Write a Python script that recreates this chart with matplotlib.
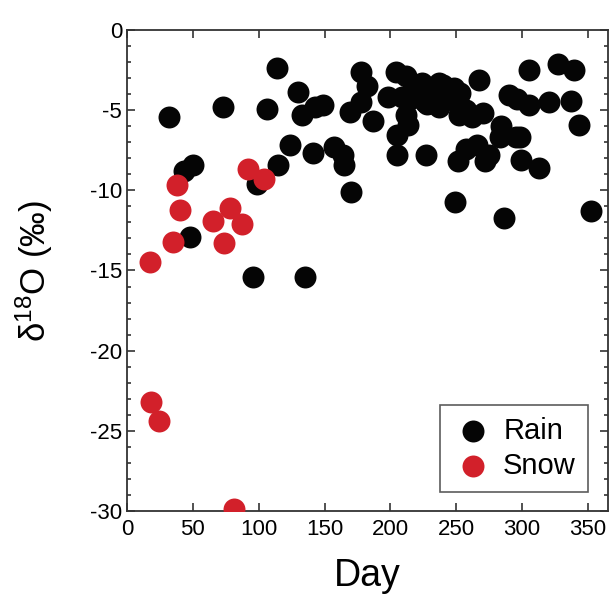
import matplotlib.pyplot as plt
from matplotlib.ticker import MultipleLocator

plt.rcParams['font.family'] = ['Liberation Sans', 'DejaVu Sans']
plt.rcParams['axes.unicode_minus'] = False
plt.rcParams['mathtext.default'] = 'regular'

RAIN_DAY = [32, 43, 50, 48, 73, 96, 99, 106, 114, 115, 124, 130, 133, 135, 141,
            143, 149, 157, 164, 165, 169, 170, 178, 182, 178, 187, 198, 204, 212,
            209, 212, 213, 205, 205, 224, 227, 232, 237, 240, 245, 220, 226, 248,
            253, 257, 252, 262, 267, 270, 249, 251, 257, 266, 272, 275, 283, 284,
            290, 296, 295, 298, 299, 286, 305, 305, 313, 320, 327, 337, 339, 343,
            352, 218, 228, 215, 237, 252]
RAIN_D18O = [-5.4, -8.8, -8.4, -12.9, -4.8, -15.4, -9.6, -4.9, -2.35, -8.4, -7.2,
             -3.85, -5.3, -15.4, -7.7, -4.8, -4.7, -7.3, -7.8, -8.4, -5.1, -10.1,
             -2.6, -3.5, -4.5, -5.7, -4.2, -2.6, -2.9, -4.2, -5.3, -5.9, -6.55,
             -7.8, -3.3, -7.8, -4.3, -3.3, -3.4, -3.95, -4.0, -4.5, -3.6, -3.9,
             -5.0, -4.6, -5.4, -3.1, -5.2, -10.7, -8.2, -7.4, -7.2, -8.2, -7.8,
             -6.7, -6.0, -4.05, -4.3, -6.65, -6.7, -8.1, -11.75, -4.7, -2.5, -8.6,
             -4.5, -2.1, -4.45, -2.5, -5.9, -11.3, -3.6, -4.6, -4.3, -4.8, -5.3]

SNOW_DAY = [17.5, 35, 40, 38, 65, 78.5, 87, 74, 92, 104, 18, 24, 81]
SNOW_D18O = [-14.5, -13.2, -11.2, -9.65, -11.9, -11.1, -12.1, -13.3, -8.7, -9.3,
             -23.2, -24.4, -29.9]

fig = plt.figure(figsize=(6.09, 5.95), dpi=100)
ax = fig.add_axes([0.2085, 0.1412, 0.7895, 0.8084])

ax.scatter(RAIN_DAY, RAIN_D18O, s=250, color='#050505', linewidths=0, label='Rain', zorder=3)
ax.scatter(SNOW_DAY, SNOW_D18O, s=250, color='#d2202a', linewidths=0, label='Snow', zorder=4)

ax.set_xlim(0, 365)
ax.set_ylim(-30, 0)
ax.xaxis.set_major_locator(MultipleLocator(50))
ax.yaxis.set_major_locator(MultipleLocator(5))
ax.yaxis.set_minor_locator(MultipleLocator(1))
ax.tick_params(which='both', direction='in', top=True, right=True, labelsize=16,
               color='#333333', width=1.2)
ax.tick_params(which='major', length=6)
ax.tick_params(which='minor', length=3)
ax.tick_params(axis='x', pad=6)
for sp in ax.spines.values():
    sp.set_color('#333333')
    sp.set_linewidth(1.3)

ax.set_xlabel('Day', fontsize=27, labelpad=13)
ax.set_ylabel('δ$^{18}$O (‰)', fontsize=25, labelpad=25)

leg = ax.legend(loc='lower right', bbox_to_anchor=(0.958, 0.04), borderaxespad=0,
                fontsize=21, frameon=True, fancybox=False, edgecolor='#333333',
                handletextpad=0.35, borderpad=0.4, labelspacing=0.25, handlelength=1.4)
leg.get_frame().set_linewidth(1.2)

fig.savefig('out.png', dpi=100)
